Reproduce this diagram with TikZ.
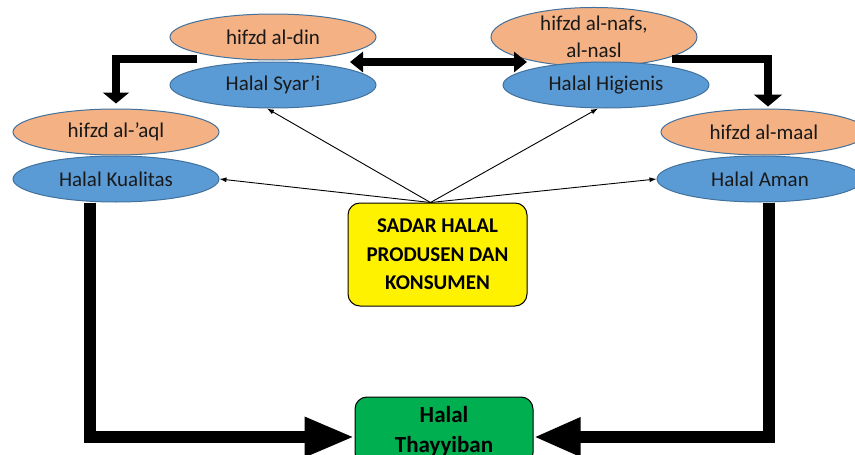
\documentclass[tikz,border=0pt]{standalone}
\usepackage{fontspec}
\setmainfont{Carlito}
\usetikzlibrary{shapes.geometric,arrows.meta}
\definecolor{peach}{HTML}{F4B183}
\definecolor{sky}{HTML}{5B9BD5}
\definecolor{edgeblue}{HTML}{41719C}
\definecolor{gbox}{HTML}{00B050}
\tikzset{
  ell/.style={ellipse, draw=edgeblue, line width=1pt, minimum width=206pt, minimum height=46pt, inner sep=0pt, align=center, text=black!90, font=\fontsize{21}{27}\selectfont},
  orange/.style={ell, fill=peach},
  blue/.style={ell, fill=sky},
  thick arrow/.style={line width=8pt, draw=black, line join=miter},
  big arrow/.style={line width=12pt, draw=black, line join=miter},
  thin arrow/.style={line width=0.9pt, -{Latex[length=7pt,width=5pt]}},
  boxnode/.style={draw=black, line width=1pt, rounded corners=12pt, align=center, font=\bfseries\fontsize{21}{28.5}\selectfont, inner sep=0pt}
}
\begin{document}
\begin{tikzpicture}[x=1pt,y=-1pt]
\useasboundingbox (0,0) rectangle (855,455);
% ellipses
\node[orange] (din) at (273,37) {hifzd al-din};
\node[blue] (syar) at (273,85) {Halal Syar’i};
\node[orange] (nafs) at (594,37) {hifzd al-nafs,\\al-nasl};
\node[blue] (hig) at (606,85) {Halal Higienis};
\node[orange] (aql) at (116,132) {hifzd al-{\char"0027}aql};
\node[blue] (kual) at (116,179) {Halal Kualitas};
\node[orange] (maal) at (764,132) {hifzd al-maal};
\node[blue] (aman) at (760,179) {Halal Aman};
% boxes
\node[boxnode, fill=yellow, minimum width=179pt, minimum height=103pt] (sadar) at (437.5,254.5) {SADAR HALAL\\PRODUSEN DAN\\KONSUMEN};
\node[boxnode, fill=gbox, minimum width=178pt, minimum height=68pt, font=\bfseries\fontsize{23}{30}\selectfont] (thay) at (444,431) {Halal\\Thayyiban};
% coordinates for thick arrows
\coordinate (dinL) at (197,59);
\coordinate (nafsR) at (672,59);
\coordinate (dblL) at (350,62);
\coordinate (dblR) at (527,62);
% bracket arrows
\draw[thick arrow, -{Triangle[width=26pt,length=11pt]}] (dinL) -| ([yshift=5pt]aql.north);
\draw[thick arrow, -{Triangle[width=28pt,length=12pt]}] (nafsR) -| ([xshift=4pt,yshift=2pt]maal.north);
\draw[thick arrow, {Triangle[width=20pt,length=13pt]}-{Triangle[width=20pt,length=13pt]}] (dblL) -- (dblR);
% bottom arrows
\draw[big arrow, -{Triangle[width=37pt,length=50pt]}] ([xshift=-26pt]kual.south) |- ([yshift=-6pt]thay.west);
\draw[big arrow, -{Triangle[width=36pt,length=47pt]}] ([xshift=9pt]aman.south) |- ([yshift=-6pt]thay.east);
% thin arrows
\draw[thin arrow] ([xshift=-7pt]sadar.north) -- ([xshift=-6pt]syar.south);
\draw[thin arrow] ([xshift=-7pt]sadar.north) -- ([xshift=-8pt]hig.south);
\draw[thin arrow] ([xshift=-7pt]sadar.north) -- (kual.east);
\draw[thin arrow] ([xshift=-7pt]sadar.north) -- (aman.west);
\end{tikzpicture}
\end{document}
